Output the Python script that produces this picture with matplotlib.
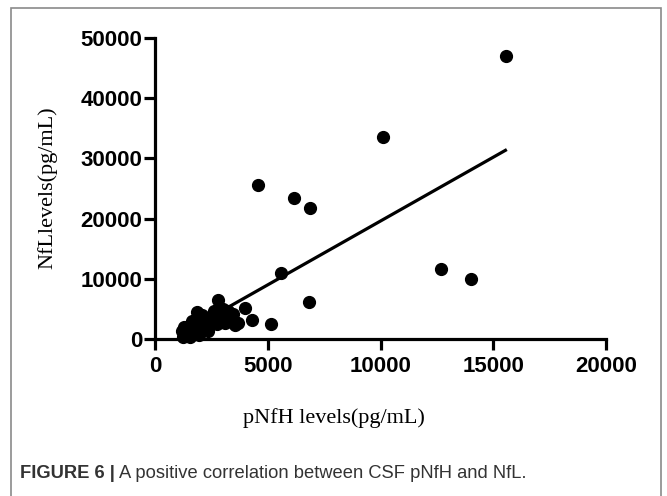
import numpy as np
import matplotlib
matplotlib.use('Agg')
import matplotlib.pyplot as plt
from matplotlib.patches import Rectangle

# valores (pNfH, NfL) em pg/mL
pnfh = [15560, 10100, 4570, 6160, 6870, 12660, 14020, 5580, 6810, 5150,
        4300, 3990, 3680, 2790, 1860,
        1250, 1300, 1350, 1300, 1400, 1450, 1500, 1550, 1600, 1700,
        1750, 1800, 1900, 2000, 2050, 2150, 2200, 2300, 2400, 2500,
        2550, 2650, 2750, 2850, 2950, 3050, 3150, 3250, 3350, 3450,
        3550, 2100, 1650, 1200, 1950, 2350, 2900, 3100, 2600, 3000]
nfl = [47000, 33600, 25600, 23400, 21800, 11700, 9900, 10900, 6200, 2500,
       3200, 5150, 2700, 6400, 4500,
       300, 900, 1500, 2000, 600, 1200, 2200, 300, 1600, 900,
       2600, 1800, 3600, 1200, 2500, 3200, 1800, 2800, 2200, 3600,
       4200, 3000, 2500, 3800, 4400, 3300, 4000, 4600, 3500, 4200,
       2400, 4000, 3000, 1300, 600, 1400, 2900, 2600, 4700, 5000]

# reta de regressao
fit_slope = 2.12
fit_intercept = -1600
fit_range = [1200, 15600]

x_ticks = [0, 5000, 10000, 15000, 20000]
y_ticks = [0, 10000, 20000, 30000, 40000, 50000]

fig = plt.figure(figsize=(6.67, 4.96), dpi=100)
ax = fig.add_axes([0.2324, 0.3165, 0.6762, 0.6069])

ax.plot(pnfh, nfl, 'o', color='black', markersize=8.5, clip_on=False, zorder=3)
fx = np.array(fit_range)
ax.plot(fx, fit_slope * fx + fit_intercept, color='black', lw=2.3, solid_capstyle='butt', zorder=2)

ax.set_xlim(0, 20000)
ax.set_ylim(0, 50000)
ax.set_xticks(x_ticks)
ax.set_yticks(y_ticks)
for s in ['top', 'right']:
    ax.spines[s].set_visible(False)
for s in ['left', 'bottom']:
    ax.spines[s].set_linewidth(2.3)
    ax.spines[s].set_capstyle('projecting')
ax.tick_params(length=8, width=2.3, direction='out')
ax.tick_params(axis='y', pad=1)
ax.tick_params(axis='x', pad=4)
for lb in ax.get_xticklabels() + ax.get_yticklabels():
    lb.set_fontfamily('Liberation Sans')
    lb.set_fontweight('bold')
    lb.set_fontsize(16)

fig.text(47 / 667, 1 - 188 / 496, 'NfLlevels(pg/mL)', rotation=90, ha='center', va='center',
         family='Liberation Serif', fontsize=16)
fig.text(334 / 667, 1 - 418 / 496, 'pNfH levels(pg/mL)', ha='center', va='center',
         family='Liberation Serif', fontsize=16)

# legenda da figura
cap_y = 1 - 474 / 496
t1 = fig.text(20 / 667, cap_y, 'FIGURE 6 |', ha='left', va='center', family='Liberation Sans',
              fontweight='bold', fontsize=13.2, color='#333333')
fig.canvas.draw()
bb = t1.get_window_extent()
fig.text((bb.x1 + 4) / 667, cap_y, 'A positive correlation between CSF pNfH and NfL.', ha='left',
         va='center', family='Liberation Sans', fontsize=13.2, color='#333333')

fig.patches.append(Rectangle((11 / 667, -0.02), 650 / 667, 1.02 - 8 / 496, transform=fig.transFigure,
                             fill=False, edgecolor='#8a8a8a', lw=1.2))

fig.savefig('out.png', dpi=100)
